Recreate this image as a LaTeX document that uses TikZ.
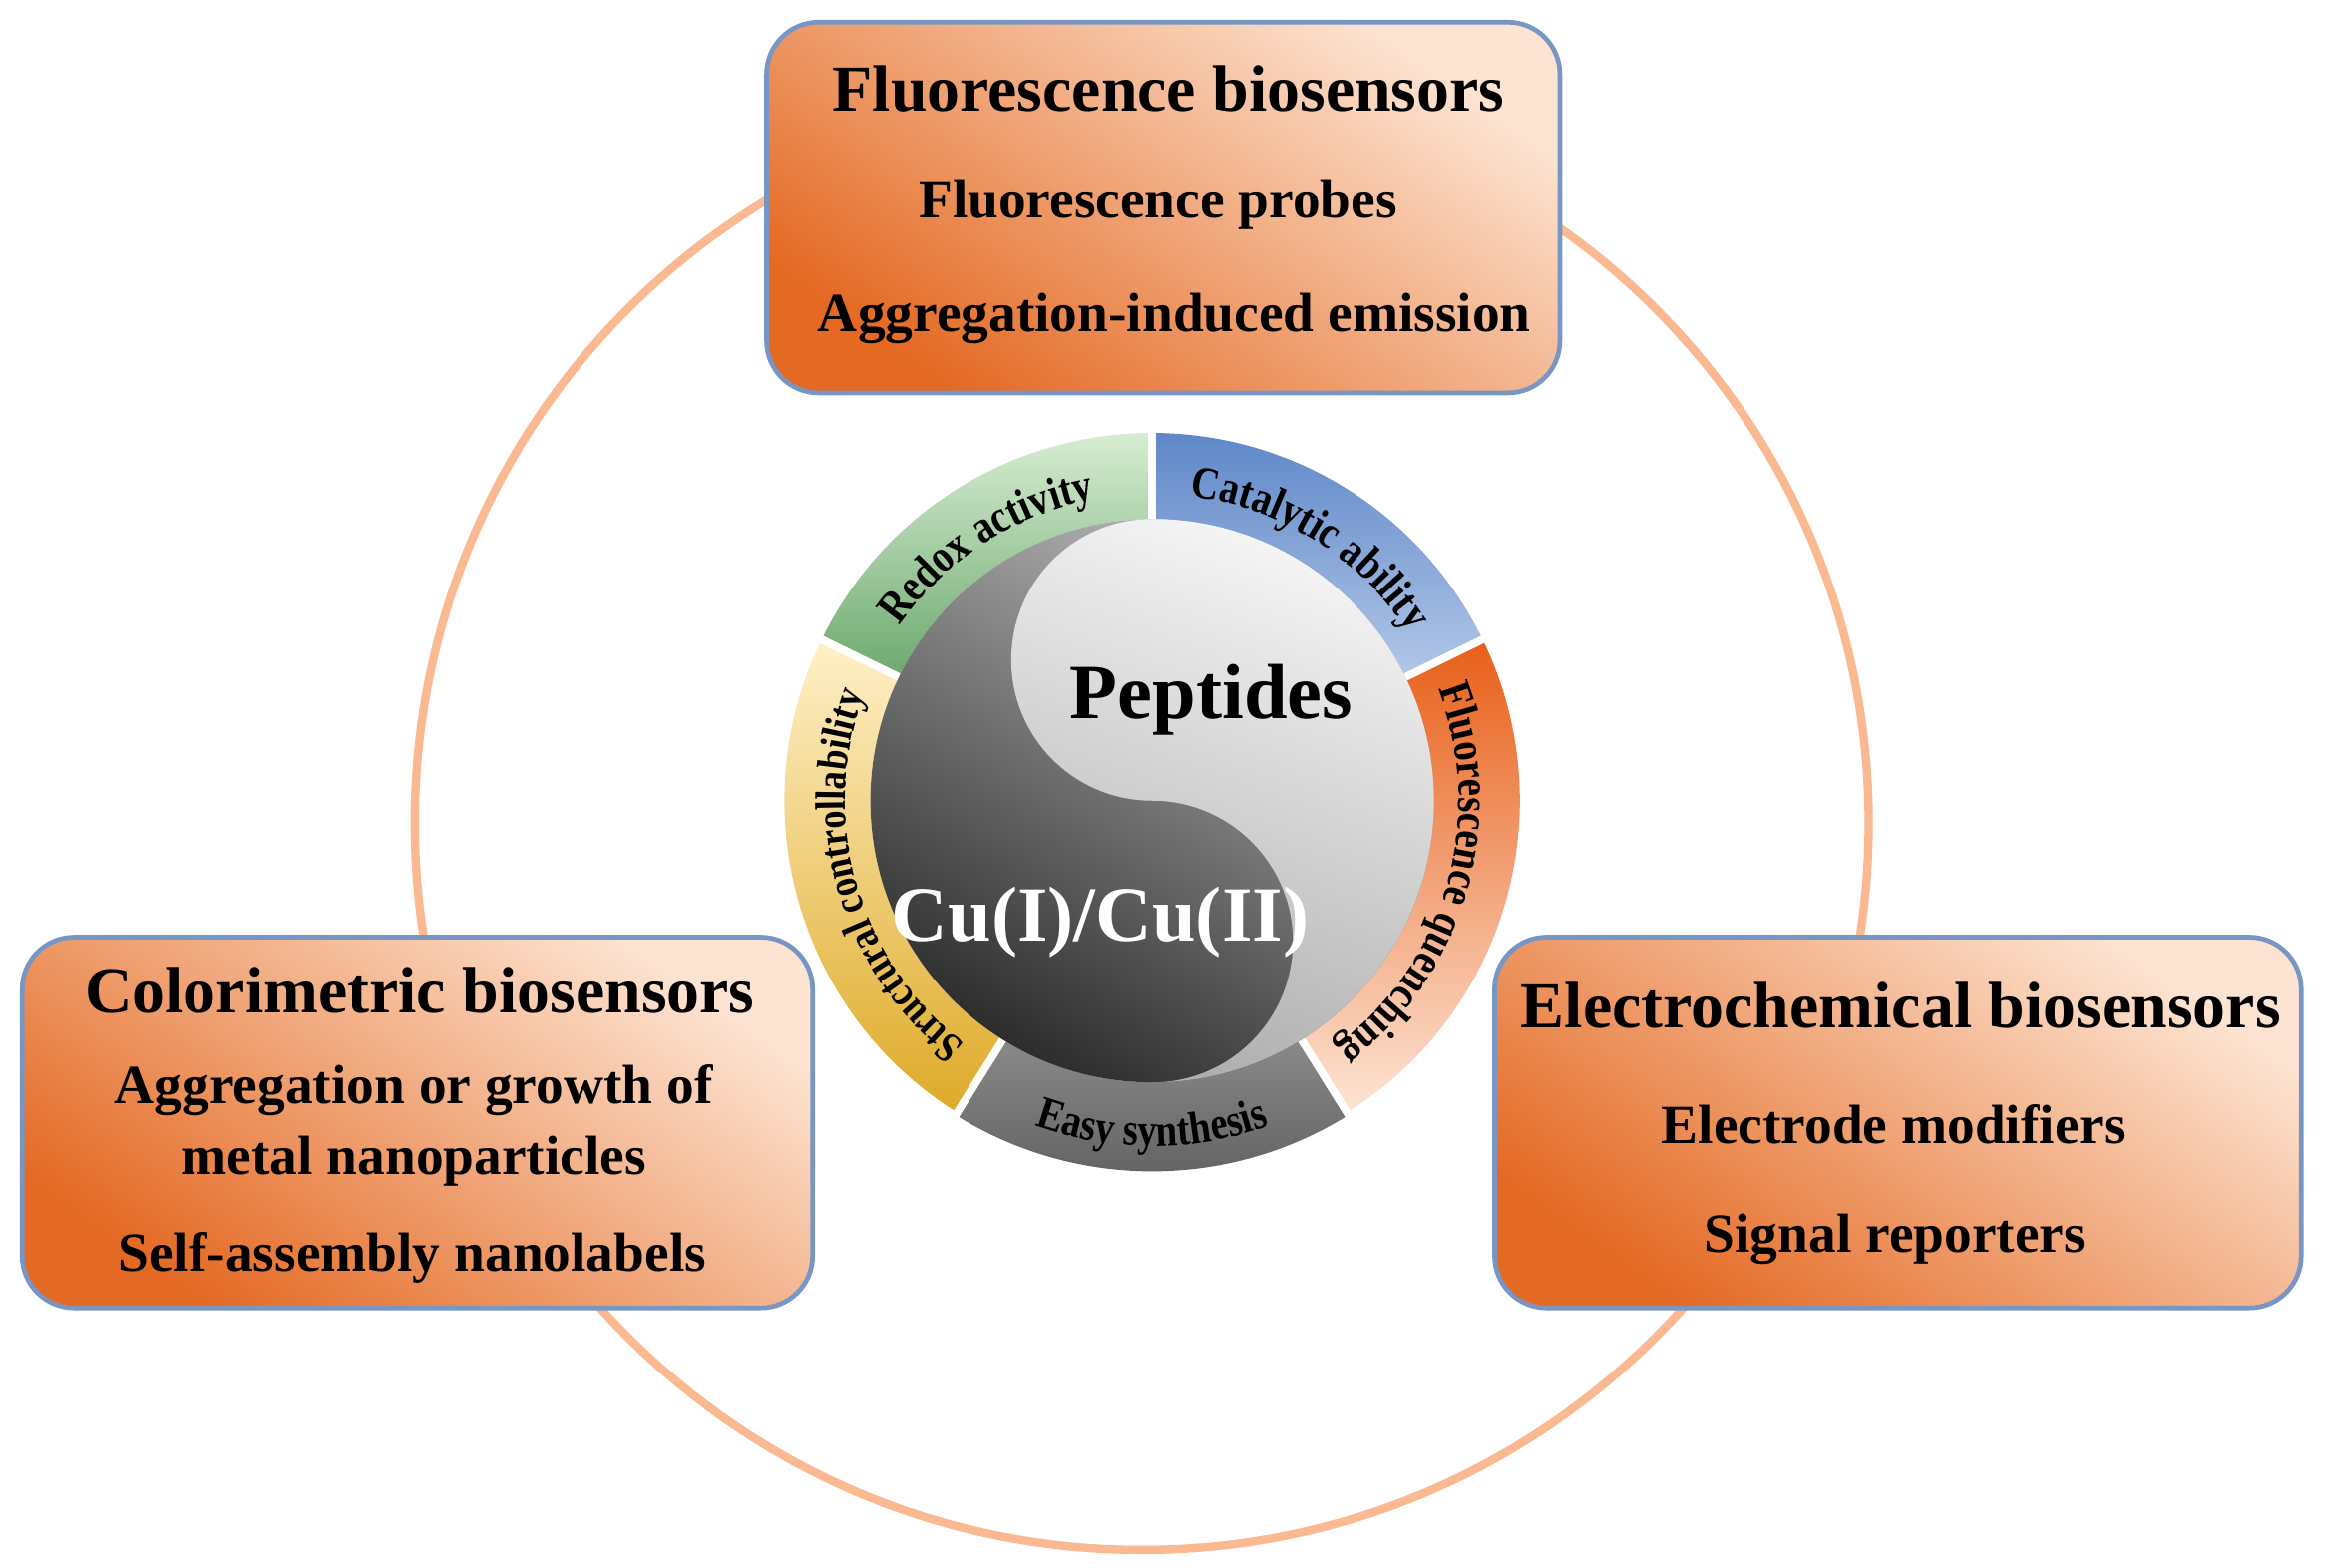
\documentclass[tikz,border=0pt]{standalone}
\usepackage{fontspec}
\setmainfont{Liberation Serif}
\newfontfamily\arcfam[FakeStretch=0.85]{Liberation Serif}
\usetikzlibrary{decorations.text,calc}
\definecolor{ringc}{RGB}{250,185,145}
\definecolor{boxd}{RGB}{228,105,35}
\definecolor{boxl}{RGB}{253,228,210}
\definecolor{boxb}{RGB}{120,150,195}
\newcommand\arcfont{\arcfam\fontsize{8.8}{10}\selectfont\bfseries}
\newcommand\arcfontb{\arcfam\fontsize{8.2}{10}\selectfont\bfseries}
\tikzset{
 biobox/.style={rounded corners=0.35cm, draw=boxb, line width=0.9pt, shading=axis, top color=boxl, bottom color=boxd, shading angle=-35},
 ttl/.style={font=\fontsize{12.6}{15}\selectfont\bfseries},
 sub/.style={font=\fontsize{10.6}{13.5}\selectfont\bfseries, align=center},
 seg/.style={shading=axis, shading angle=#1},
 arctext/.style={decorate, decoration={text along path, text align=center, text={#1}}}
}
\begin{document}
\begin{tikzpicture}[x=0.01cm,y=0.01cm]
\useasboundingbox (0,0) rectangle (1568,1057);
\fill[white] (0,0) rectangle (1568,1057);
\coordinate (C) at (777,517);
\node[draw=ringc, line width=1.6pt, circle, minimum size=9.8cm] (big) at (770,502) {};
% boxes
\path[biobox] (517,792) rectangle (1052,1042);
\path[biobox] (15,175) rectangle (548,425);
\path[biobox] (1008,175) rectangle (1552,425);
\node[ttl] (t1) at (788,997) {Fluorescence biosensors};
\node[sub] (t1a) at (781,919) {Fluorescence probes};
\node[sub] (t1b) at (792,842) {Aggregation-induced emission};
\node[ttl] (t2) at (283,389) {Colorimetric biosensors};
\node[sub] (t2a) at (279,298) {Aggregation or growth of\\metal nanoparticles};
\node[sub] (t2b) at (278,209) {Self-assembly nanolabels};
\node[ttl] (t3) at (1282,379) {Electrochemical biosensors};
\node[sub] (t3a) at (1277,299) {Electrode modifiers};
\node[sub] (t3b) at (1278,221) {Signal reporters};
% ring segments
\path[seg=-45, top color={rgb,255:red,215;green,236;blue,210}, bottom color={rgb,255:red,55;green,135;blue,60}]
 (C) ++(154:248) arc[start angle=154,end angle=90,radius=248] -- ($(C)+(90:190)$) arc[start angle=90,end angle=154,radius=190] -- cycle;
\path[seg=90, top color={rgb,255:red,95;green,135;blue,200}, bottom color={rgb,255:red,220;green,232;blue,248}]
 (C) ++(90:248) arc[start angle=90,end angle=26,radius=248] -- ($(C)+(26:190)$) arc[start angle=26,end angle=90,radius=190] -- cycle;
\path[seg=-90, top color={rgb,255:red,232;green,95;blue,25}, bottom color={rgb,255:red,253;green,228;blue,212}]
 (C) ++(26:248) arc[start angle=26,end angle=-58,radius=248] -- ($(C)+(-58:190)$) arc[start angle=-58,end angle=26,radius=190] -- cycle;
\path[seg=90, top color={rgb,255:red,205;green,205;blue,205}, bottom color={rgb,255:red,95;green,95;blue,95}]
 (C) ++(-58:250) arc[start angle=-58,end angle=-122,radius=250] -- ($(C)+(-122:190)$) arc[start angle=-122,end angle=-58,radius=190] -- cycle;
\path[seg=0, top color={rgb,255:red,255;green,240;blue,200}, bottom color={rgb,255:red,222;green,170;blue,40}]
 (C) ++(238:248) arc[start angle=238,end angle=154,radius=248] -- ($(C)+(154:190)$) arc[start angle=154,end angle=238,radius=190] -- cycle;
\foreach \a in {90,26,-58,-122,154}
 \draw[white, line width=1.5pt] ($(C)+(\a:189)$) -- ($(C)+(\a:251)$);
% yin-yang
\path[shading=axis, top color={rgb,255:red,185;green,185;blue,185}, bottom color={rgb,255:red,45;green,45;blue,45}, shading angle=-30]
 (C) circle[radius=190];
\path[shading=axis, top color={rgb,255:red,245;green,245;blue,245}, bottom color={rgb,255:red,175;green,175;blue,175}, shading angle=-20]
 (C) ++(0,190) arc[start angle=90,end angle=-90,radius=190]
 arc[start angle=-90,end angle=90,radius=95]
 arc[start angle=-90,end angle=-270,radius=95] -- cycle;
\node[font=\fontsize{15}{17}\selectfont\bfseries] (pep) at (817,585) {Peptides};
\node[font=\fontsize{15}{17}\selectfont\bfseries, text=white] (cu) at (742,435) {Cu(I)/Cu(II)};
% arc texts
\path[arctext={|\arcfont|Redox activity}] (C) ++(154:207) arc[start angle=154,end angle=92,radius=207];
\path[arctext={|\arcfont|Catalytic ability}] (C) ++(90:207) arc[start angle=90,end angle=26,radius=207];
\path[arctext={|\arcfont|Fluorescence quenching}] (C) ++(26:207) arc[start angle=26,end angle=-58,radius=207];
\path[arctext={|\arcfont|Easy synthesis}] (C) ++(-122:233) arc[start angle=-122,end angle=-58,radius=233];
\path[arctext={|\arcfontb|Structural controllability}] (C) ++(240:207) arc[start angle=240,end angle=152,radius=207];
\end{tikzpicture}
\end{document}
